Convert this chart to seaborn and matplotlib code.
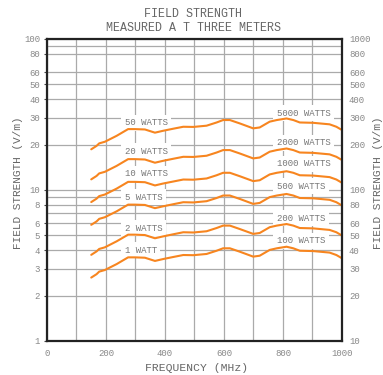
import pandas as pd
import seaborn as sns
import matplotlib.pyplot as plt

# frequencies (MHz) where the curves were read
freq = [150, 168, 177, 196, 236, 275, 298, 332, 366, 394, 428, 462, 496, 541, 575,
        597, 620, 654, 699, 721, 755, 779, 812, 835, 857, 902, 958, 981, 1000]

# field strength (V/m) for each transmitter power, left scale
w1 = [2.63, 2.77, 2.88, 2.95, 3.23, 3.58, 3.58, 3.56, 3.39, 3.49, 3.60, 3.71, 3.70, 3.77, 3.96,
      4.11, 4.11, 3.90, 3.62, 3.67, 4.01, 4.11, 4.21, 4.11, 3.96, 3.94, 3.85, 3.71, 3.53]
w2 = [3.72, 3.92, 4.07, 4.17, 4.57, 5.06, 5.06, 5.03, 4.79, 4.93, 5.09, 5.25, 5.23, 5.33, 5.60,
      5.81, 5.81, 5.51, 5.12, 5.19, 5.67, 5.81, 5.95, 5.81, 5.60, 5.57, 5.44, 5.25, 4.99]
w5 = [5.88, 6.19, 6.44, 6.60, 7.22, 8.00, 8.00, 7.96, 7.58, 7.80, 8.05, 8.30, 8.27, 8.43, 8.85,
      9.19, 9.19, 8.72, 8.09, 8.21, 8.97, 9.19, 9.41, 9.19, 8.85, 8.81, 8.61, 8.30, 7.89]
w10 = [8.32, 8.76, 9.11, 9.33, 10.21, 11.32, 11.32, 11.26, 10.72, 11.04, 11.38, 11.73, 11.70, 11.92, 12.52,
       13.00, 13.00, 12.33, 11.45, 11.60, 12.68, 13.00, 13.31, 13.00, 12.52, 12.46, 12.17, 11.73, 11.16]
w20 = [11.76, 12.39, 12.88, 13.19, 14.44, 16.01, 16.01, 15.92, 15.16, 15.61, 16.10, 16.59, 16.55, 16.86, 17.71,
       18.38, 18.38, 17.44, 16.19, 16.41, 17.93, 18.38, 18.83, 18.38, 17.71, 17.62, 17.22, 16.59, 15.79]
w50 = [18.60, 19.59, 20.36, 20.86, 22.84, 25.31, 25.31, 25.17, 23.97, 24.68, 25.46, 26.23, 26.16, 26.66, 28.00,
       29.06, 29.06, 27.58, 25.60, 25.95, 28.35, 29.06, 29.77, 29.06, 28.00, 27.86, 27.22, 26.23, 24.96]

left_labels = ["1 WATT", "2 WATTS", "5 WATTS", "10 WATTS", "20 WATTS", "50 WATTS"]
right_labels = ["100 WATTS", "200 WATTS", "500 WATTS", "1000 WATTS", "2000 WATTS", "5000 WATTS"]
# label heights on the left scale
left_label_y = [4.0, 5.58, 8.95, 12.8, 18.1, 27.9]
right_label_y = [4.62, 6.5, 10.6, 14.9, 20.6, 32.2]

left_ticks = [1, 2, 3, 4, 5, 6, 8, 10, 20, 30, 40, 50, 60, 80, 100]
right_ticks = [10, 20, 30, 40, 50, 60, 80, 100, 200, 300, 400, 500, 600, 800, 1000]

series = {"1": w1, "2": w2, "5": w5, "10": w10, "20": w20, "50": w50}
df = pd.concat([pd.DataFrame({"freq": freq, "field": v, "watts": k}) for k, v in series.items()])

sns.set_style("white")
plt.rcParams['font.family'] = ['Liberation Mono', 'DejaVu Sans']
txt = '#666666'
grid_c = '#aaaaaa'

fig = plt.figure(figsize=(3.83, 3.75), dpi=100)
ax = fig.add_axes([0.1227, 0.0907, 0.7702, 0.8053])
ax.set_axisbelow(True)

sns.lineplot(data=df, x="freq", y="field", hue="watts", palette=["#f7851f"] * 6,
             legend=False, lw=1.5, ax=ax, zorder=3, estimator=None, sort=False)

ax.set_yscale('log')
ax.set_xlim(0, 1000)
ax.set_ylim(1, 100)
ax.set_xticks(range(0, 1001, 200))
ax.set_xticks(range(100, 1000, 200), minor=True)
ax.set_yticks(left_ticks)
ax.set_yticklabels([str(t) for t in left_ticks])
ax.set_yticks([7, 9, 90], minor=True)
ax.yaxis.set_minor_formatter(plt.NullFormatter())
ax.grid(True, which='both', color=grid_c, lw=0.9)
ax.tick_params(axis='x', which='both', length=0, pad=6, labelsize=6.5, labelcolor='#888888')
ax.tick_params(axis='y', which='major', length=2, width=0.8, color='#444444', pad=3,
               labelsize=6.5, labelcolor='#888888')
ax.tick_params(axis='y', which='minor', length=0)
ax.set_xlabel("")
ax.set_ylabel("")
for s in ax.spines.values():
    s.set_color('#222222')
    s.set_linewidth(1.6)
    s.set_zorder(5)

ax2 = ax.twinx()
ax2.set_yscale('log')
ax2.set_ylim(10, 1000)
ax2.set_yticks(right_ticks)
ax2.set_yticklabels([str(t) for t in right_ticks])
ax2.yaxis.set_minor_formatter(plt.NullFormatter())
ax2.tick_params(axis='y', which='major', length=0, pad=5, labelsize=6.5, labelcolor='#888888')
ax2.tick_params(axis='y', which='minor', length=0)
for s in ax2.spines.values():
    s.set_visible(False)

# white boxes sit over the grid but under the curves
box = dict(facecolor='white', edgecolor='none', pad=2.5)
for lab, y in zip(left_labels, left_label_y):
    ax.text(263, y, lab, fontsize=6.5, color='#777777', ha='left', va='center', bbox=box, zorder=2)
for lab, y in zip(right_labels, right_label_y):
    ax.text(779, y, lab, fontsize=6.5, color='#777777', ha='left', va='center', bbox=box, zorder=2)

fig.text(0.504, 0.944, "FIELD STRENGTH\nMEASURED A T THREE METERS", ha='center', va='center',
         fontsize=8.4, color=txt, linespacing=1.2)
fig.text(0.514, 0.019, "FREQUENCY (MHz)", ha='center', va='center', fontsize=8.2, color=txt)
fig.text(0.047, 0.512, "FIELD STRENGTH (V/m)", rotation=90, ha='center', va='center',
         fontsize=8, color=txt)
fig.text(0.986, 0.512, "FIELD STRENGTH (V/m)", rotation=90, ha='center', va='center',
         fontsize=8, color=txt)

fig.savefig("out.png", dpi=100)
